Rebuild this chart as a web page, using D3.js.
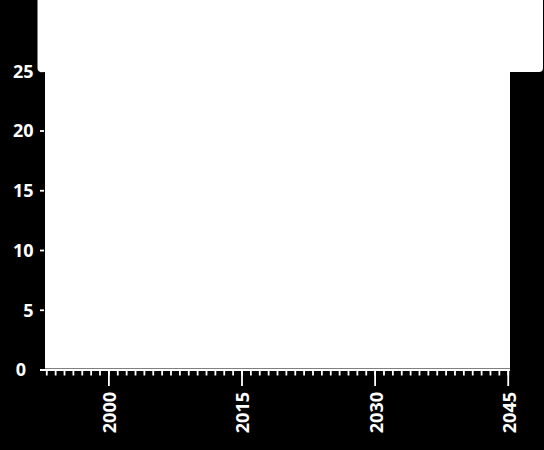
<!DOCTYPE html>
<html>
<head>
<meta charset="utf-8">
<script src="https://cdn.jsdelivr.net/npm/d3@7"></script>
<style>
  html, body { margin: 0; padding: 0; background: #000; }
  svg { display: block; }
  .lbl { fill: #fff; font-family: "Open Sans", sans-serif; font-weight: bold; font-size: 18px; }
</style>
</head>
<body>
<div class="container"></div>
<script>
const WIDTH = 544;
const HEIGHT = 450;

// plot area (inside the black frame)
const LEFT = 45, RIGHT = 510, TOP = 0, BOTTOM = 370;

// axis values
var yTicks = [0, 5, 10, 15, 20, 25];
var yDomain = [0, 31];
var xDomain = [1992.8, 2045.2];
var xMajorTicks = [2000, 2015, 2030, 2045];
var xMinorTicks = d3.range(1993, 2046);

var drawChart = function(){
    var x = d3.scaleLinear().domain(xDomain).range([LEFT, RIGHT]);
    var y = d3.scaleLinear().domain(yDomain).range([BOTTOM, BOTTOM - 11.95 * yDomain[1]]);

    var svg = d3.select('.container')
        .append('svg')
        .attr("width", WIDTH)
        .attr("height", HEIGHT);

    svg.append("rect")
        .attr("width", WIDTH).attr("height", HEIGHT)
        .attr("fill", "#000");

    // white plot background
    svg.append("rect")
        .attr("x", LEFT).attr("y", TOP)
        .attr("width", RIGHT - LEFT).attr("height", BOTTOM - 1.5 - TOP)
        .attr("fill", "#fff");

    // y axis ticks + labels
    var yg = svg.append("g");
    yg.selectAll("line")
        .data(yTicks)
        .enter().append("line")
        .attr("x1", 40).attr("x2", 44)
        .attr("y1", function(d){ return y(d); })
        .attr("y2", function(d){ return y(d); })
        .attr("stroke", "#fff")
        .attr("stroke-width", 1.8);
    yg.selectAll("text")
        .data(yTicks)
        .enter().append("text")
        .attr("class", "lbl")
        .attr("x", function(d){ return d === 0 ? 26 : 33.5; })
        .attr("y", function(d){ return y(d); })
        .attr("dy", "0.36em")
        .attr("text-anchor", "end")
        .text(function(d){ return d; });

    // x axis line
    svg.append("line")
        .attr("x1", 40).attr("x2", RIGHT)
        .attr("y1", BOTTOM).attr("y2", BOTTOM)
        .attr("stroke", "#fff")
        .attr("stroke-width", 1.8);

    // minor (yearly) ticks
    svg.append("g").selectAll("line")
        .data(xMinorTicks)
        .enter().append("line")
        .attr("x1", function(d){ return x(d); })
        .attr("x2", function(d){ return x(d); })
        .attr("y1", BOTTOM).attr("y2", BOTTOM + 5.5)
        .attr("stroke", "#fff")
        .attr("stroke-width", 1.8);

    // major ticks + rotated labels
    var xg = svg.append("g");
    xg.selectAll("line")
        .data(xMajorTicks)
        .enter().append("line")
        .attr("x1", function(d){ return x(d); })
        .attr("x2", function(d){ return x(d); })
        .attr("y1", BOTTOM).attr("y2", BOTTOM + 16)
        .attr("stroke", "#fff")
        .attr("stroke-width", 1.8);
    xg.selectAll("text")
        .data(xMajorTicks)
        .enter().append("text")
        .attr("class", "lbl")
        .attr("transform", function(d){ return "translate(" + (x(d) + 1) + "," + (BOTTOM + 22) + ") rotate(-90)"; })
        .attr("dy", "0.36em")
        .attr("text-anchor", "end")
        .text(function(d){ return d; });

    // legend box (empty, white, rounded)
    svg.append("rect")
        .attr("x", 37.5).attr("y", -4)
        .attr("width", 505.5).attr("height", 76)
        .attr("rx", 4).attr("ry", 4)
        .attr("fill", "#fff");
};

drawChart();
</script>
</body>
</html>
